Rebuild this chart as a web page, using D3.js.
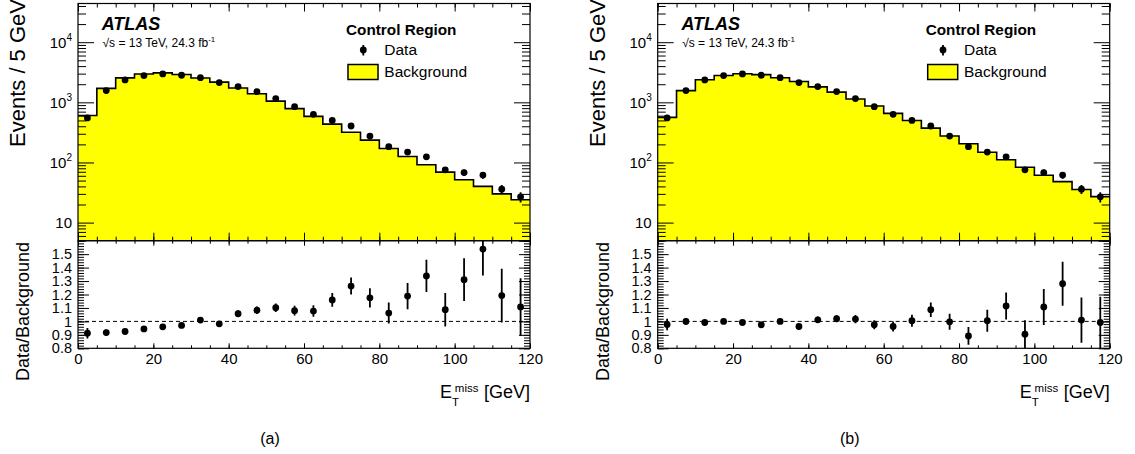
<!DOCTYPE html>
<html><head><meta charset="utf-8">
<script src="https://cdn.jsdelivr.net/npm/d3@7"></script>
<style>
body{margin:0;background:#fff}
svg text{font-family:"Liberation Sans",Arial,Helvetica,sans-serif;fill:#000}
</style>
</head><body>
<svg id="c" width="1135" height="454"></svg>
<script>
// ---------------- data ----------------
const binLow = [0,5,10,15,20,25,30,35,40,45,50,55,60,65,70,75,80,85,90,95,100,105,110,115];
const binWidth = 5;
const xTickLabels = [0,20,40,60,80,100,120];
const logTickValues = [10,100,1000,10000];
const ratioTickLabels = [0.8,0.9,1,1.1,1.2,1.3,1.4,1.5];

const data    = [550,1567,2360,2786,2970,2820,2570,2130,1827,1507,1153,848,631,501,404,275,183,149,124,75.5,68,61.6,36,26.8];
const dataErr = [23.5,39.6,48.6,52.8,54.5,53.1,50.7,46.2,42.7,38.8,34,29.1,25.1,22.4,20.1,16.6,13.5,12.2,11.1,8.7,8.2,7.8,6,5.2];

const bgA       = [603,1709,2551,2951,3094,2907,2545,2169,1728,1391,1046,787,585,434,318,235,171,126,91.5,69,51.5,40,30,24];
const ratioA    = [0.912,0.917,0.925,0.944,0.96,0.97,1.01,0.982,1.057,1.083,1.102,1.08,1.077,1.16,1.263,1.175,1.062,1.188,1.338,1.087,1.31,1.538,1.192,1.107];
const ratioErrA = [0.039,0.023,0.019,0.018,0.018,0.018,0.02,0.021,0.025,0.028,0.032,0.037,0.043,0.052,0.063,0.071,0.078,0.097,0.12,0.125,0.159,0.196,0.2,0.214];

const bgB       = [563,1567,2379,2786,2994,2892,2570,2214,1805,1477,1134,870,656,498,372,276,205,148,111,83.4,61.4,48.1,35.6,27];
const ratioB    = [0.977,1.0,0.992,1.0,0.992,0.975,1.0,0.962,1.012,1.02,1.017,0.975,0.962,1.005,1.087,0.997,0.892,1.005,1.115,0.905,1.107,1.28,1.01,0.992];
const ratioErrB = [0.042,0.025,0.02,0.019,0.018,0.018,0.02,0.021,0.024,0.026,0.03,0.033,0.038,0.045,0.054,0.06,0.066,0.082,0.1,0.104,0.134,0.163,0.168,0.192];

const panelLabels = ["(a)","(b)"];

// ---------------- layout ----------------
const svg = d3.select("#c");
const W = 452, topY0 = 3.5, topY1 = 240.7, rY1 = 348.3;
const x  = d3.scaleLinear().domain([0,120]).range([0,W]);
const yT = d3.scaleLog().domain([5,44000]).range([topY1,topY0]);
const yR = d3.scaleLinear().domain([0.8,1.6]).range([rY1,topY1]);

const defs = svg.append("defs");

function logMinor(){
  const v=[];
  [1,10,100,1000,10000].forEach(d=>{for(let k=2;k<=9;k++){const t=k*d; if(t>=5&&t<=44000) v.push(t);}});
  return v;
}

function axisG(g, axis, tx, ty){
  const a = g.append("g").attr("transform",`translate(${tx},${ty})`).call(axis);
  a.select(".domain").remove();
  a.selectAll("line").attr("stroke","#000").attr("stroke-width",1);
  return a;
}

function panel(ox, bg, ratio, rErr, label, idx){
  const g = svg.append("g").attr("transform",`translate(${ox},0)`);
  defs.append("clipPath").attr("id","ct"+idx).append("rect").attr("x",0).attr("y",topY0).attr("width",W).attr("height",topY1-topY0);
  defs.append("clipPath").attr("id","cr"+idx).append("rect").attr("x",0).attr("y",topY1).attr("width",W).attr("height",rY1-topY1);

  // ---- top panel ----
  const pts = binLow.map((b,i)=>({x:b,v:bg[i]}));
  pts.push({x:binLow[binLow.length-1]+binWidth, v:bg[bg.length-1]});
  const top = g.append("g").attr("clip-path",`url(#ct${idx})`);
  top.append("path").datum(pts)
    .attr("d", d3.area().x(d=>x(d.x)).y0(topY1).y1(d=>yT(d.v)).curve(d3.curveStepAfter))
    .attr("fill","#ffff00");
  top.append("path").datum(pts)
    .attr("d", d3.line().x(d=>x(d.x)).y(d=>yT(d.v)).curve(d3.curveStepAfter))
    .attr("fill","none").attr("stroke","#000").attr("stroke-width",1.6);
  top.selectAll("line.err").data(data).enter().append("line")
    .attr("x1",(d,i)=>x(binLow[i]+binWidth/2)).attr("x2",(d,i)=>x(binLow[i]+binWidth/2))
    .attr("y1",(d,i)=>yT(d+dataErr[i])).attr("y2",(d,i)=>yT(Math.max(d-dataErr[i],1)))
    .attr("stroke","#000").attr("stroke-width",1.8);
  top.selectAll("circle").data(data).enter().append("circle")
    .attr("cx",(d,i)=>x(binLow[i]+binWidth/2)).attr("cy",d=>yT(d)).attr("r",3.4).attr("fill","#000");

  // top ticks
  const minorX = d3.range(0,121,5);
  axisG(g, d3.axisBottom(x).tickValues(xTickLabels).tickSize(-8).tickFormat(""), 0, topY1);
  axisG(g, d3.axisBottom(x).tickValues(minorX).tickSize(-4).tickFormat(""), 0, topY1);
  axisG(g, d3.axisTop(x).tickValues(xTickLabels).tickSize(-8).tickFormat(""), 0, topY0);
  axisG(g, d3.axisTop(x).tickValues(minorX).tickSize(-4).tickFormat(""), 0, topY0);
  const yl = axisG(g, d3.axisLeft(yT).tickValues(logTickValues).tickSize(-16).tickPadding(6).tickFormat(d=>""), 0, 0);
  yl.selectAll("text").attr("font-size",15).attr("font-family","Liberation Sans, Arial, sans-serif")
    .each(function(d){
      const t=d3.select(this); const e=Math.round(Math.log10(d));
      t.text(null);
      if(e===1){ t.append("tspan").text("10"); }
      else { t.append("tspan").text("10"); t.append("tspan").attr("font-size",10).attr("dy",-7).text(e); }
    });
  axisG(g, d3.axisLeft(yT).tickValues(logMinor()).tickSize(-8).tickFormat(""), 0, 0);
  axisG(g, d3.axisRight(yT).tickValues(logTickValues).tickSize(-16).tickFormat(""), W, 0);
  axisG(g, d3.axisRight(yT).tickValues(logMinor()).tickSize(-8).tickFormat(""), W, 0);

  // ---- ratio panel ----
  const rp = g.append("g").attr("clip-path",`url(#cr${idx})`);
  rp.append("line").attr("x1",0).attr("x2",W).attr("y1",yR(1)).attr("y2",yR(1))
    .attr("stroke","#000").attr("stroke-width",1).attr("stroke-dasharray","4,3");
  rp.selectAll("line.rerr").data(ratio).enter().append("line")
    .attr("x1",(d,i)=>x(binLow[i]+binWidth/2)).attr("x2",(d,i)=>x(binLow[i]+binWidth/2))
    .attr("y1",(d,i)=>yR(d+rErr[i])).attr("y2",(d,i)=>yR(d-rErr[i]))
    .attr("stroke","#000").attr("stroke-width",1.8);
  rp.selectAll("circle").data(ratio).enter().append("circle")
    .attr("cx",(d,i)=>x(binLow[i]+binWidth/2)).attr("cy",d=>yR(d)).attr("r",3.4).attr("fill","#000");

  const xl = axisG(g, d3.axisBottom(x).tickValues(xTickLabels).tickSize(-5).tickPadding(5), 0, rY1);
  xl.selectAll("text").attr("font-size",15).attr("font-family","Liberation Sans, Arial, sans-serif");
  axisG(g, d3.axisBottom(x).tickValues(minorX).tickSize(-3).tickFormat(""), 0, rY1);
  axisG(g, d3.axisTop(x).tickValues(xTickLabels).tickSize(-5).tickFormat(""), 0, topY1);
  axisG(g, d3.axisTop(x).tickValues(minorX).tickSize(-3).tickFormat(""), 0, topY1);
  const rMajor = ratioTickLabels.concat([1.6]);
  const rMinor = d3.range(0,41).map(k=>0.8+k*0.02);
  const ryl = axisG(g, d3.axisLeft(yR).tickValues(ratioTickLabels).tickSize(-11).tickPadding(6).tickFormat(d=>d3.format("~g")(d)), 0, 0);
  ryl.selectAll("text").attr("font-size",14.5).attr("font-family","Liberation Sans, Arial, sans-serif");
  axisG(g, d3.axisLeft(yR).tickValues(rMinor).tickSize(-6).tickFormat(""), 0, 0);
  axisG(g, d3.axisRight(yR).tickValues(rMajor).tickSize(-11).tickFormat(""), W, 0);
  axisG(g, d3.axisRight(yR).tickValues(rMinor).tickSize(-6).tickFormat(""), W, 0);

  // frames
  g.append("rect").attr("x",0).attr("y",topY0).attr("width",W).attr("height",topY1-topY0)
    .attr("fill","none").attr("stroke","#000").attr("stroke-width",1.2);
  g.append("rect").attr("x",0).attr("y",topY1).attr("width",W).attr("height",rY1-topY1)
    .attr("fill","none").attr("stroke","#000").attr("stroke-width",1.2);

  // titles
  g.append("text").attr("transform",`translate(-53,-1) rotate(-90)`).attr("text-anchor","end")
    .attr("font-size",22).text("Events / 5 GeV");
  g.append("text").attr("transform",`translate(-49,242) rotate(-90)`).attr("text-anchor","end")
    .attr("font-size",18).text("Data/Background");
  const xt = g.append("g");
  xt.append("text").attr("x",W).attr("y",398).attr("text-anchor","end").attr("font-size",18).text("[GeV]");
  xt.append("text").attr("x",W-51.5).attr("y",391.5).attr("text-anchor","end").attr("font-size",11.5).text("miss");
  xt.append("text").attr("x",W-78).attr("y",406).attr("font-size",11.5).text("T");
  xt.append("text").attr("x",W-90).attr("y",398).attr("font-size",18).text("E");

  // ATLAS label
  g.append("text").attr("x",23.7).attr("y",30).attr("font-size",18).attr("font-weight","bold")
    .attr("font-style","italic").text("ATLAS");
  const en = g.append("text").attr("x",24.5).attr("y",46.7).attr("font-size",12);
  en.append("tspan").text("\u221As = 13 TeV, 24.3 fb");
  en.append("tspan").attr("font-size",8).attr("dy",-5).text("-1");

  // legend
  g.append("text").attr("x",268).attr("y",34.5).attr("font-size",15.3).attr("font-weight","bold").text("Control Region");
  g.append("line").attr("x1",285.3).attr("x2",285.3).attr("y1",45).attr("y2",55.5).attr("stroke","#000").attr("stroke-width",1.8);
  g.append("circle").attr("cx",285.3).attr("cy",50).attr("r",3.4).attr("fill","#000");
  g.append("text").attr("x",306.3).attr("y",55).attr("font-size",15.5).text("Data");
  g.append("rect").attr("x",270).attr("y",64.5).attr("width",30).attr("height",15)
    .attr("fill","#ffff00").attr("stroke","#000").attr("stroke-width",1.5);
  g.append("text").attr("x",306.3).attr("y",76.7).attr("font-size",15.5).text("Background");

  // sub-figure label
  g.append("text").attr("x",192).attr("y",444).attr("text-anchor","middle")
    .attr("font-family","Liberation Serif, Times New Roman, serif").attr("font-size",16).text(label);
}

panel(78, bgA, ratioA, ratioErrA, panelLabels[0], 0);
panel(657.7, bgB, ratioB, ratioErrB, panelLabels[1], 1);
</script>
</body></html>
